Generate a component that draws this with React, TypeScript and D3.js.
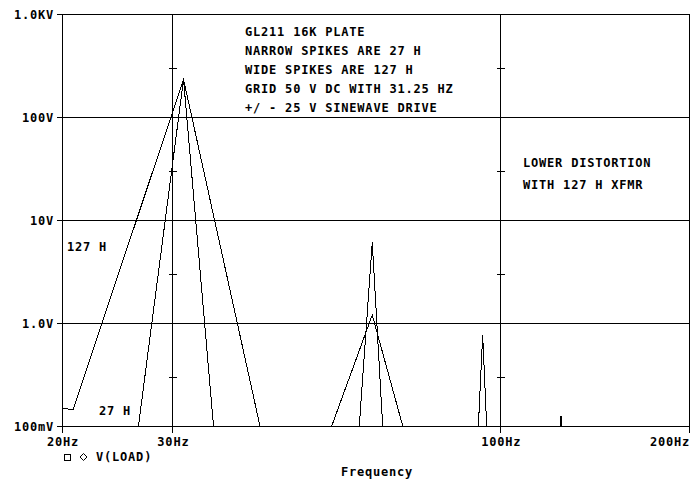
import React from "react";
import * as d3 from "d3";

// FFT bin frequencies (Hz)
const freqs = [10.42, 20.83, 31.25, 41.67, 52.08, 62.5, 72.92, 83.33, 93.75, 104.17, 114.58, 125.0, 135.42, 145.83, 156.25, 166.67, 177.08, 187.5, 197.92, 208.33];
// 127 H transformer (wide spikes), volts
const wide127 = [0.246, 0.144, 232, 0.0823, 0.0573, 1.196, 0.0391, 0.02, 0.03, 0.015, 0.01, 0.02, 0.01, 0.008, 0.01, 0.006, 0.005, 0.006, 0.004, 0.004];
// 27 H transformer (narrow spikes), volts
const narrow27 = [1e-6, 1.31e-6, 232, 3.7e-7, 9.2e-7, 6.07, 3.9e-7, 2e-7, 0.764, 3.4e-7, 3e-6, 0.125, 3e-6, 1e-7, 1e-7, 1e-7, 1e-7, 1e-7, 1e-7, 1e-7];

const yTicks = [1000, 100, 10, 1, 0.1];
const yTickLabels = ["1.0KV", "100V", "10V", "1.0V", "100mV"];
const xTicks = [20, 30, 100, 200];
const xTickLabels = ["20Hz", "30Hz", "100Hz", "200Hz"];
const minorY = [300, 30, 3, 0.3];
const minorXLines = [30, 100];

const notes = [
  "GL211 16K PLATE",
  "NARROW SPIKES ARE 27 H",
  "WIDE SPIKES ARE 127 H",
  "GRID 50 V DC WITH 31.25 HZ",
  "+/ - 25 V SINEWAVE DRIVE",
];
const notes2 = ["LOWER DISTORTION", "WITH 127 H XFMR"];

const W = 698, H = 489;
const L = 62, R = 689, T = 14, B = 426;

export default function App() {
  const x = d3.scaleLog().domain([20, 200]).range([L, R]);
  const y = d3.scaleLog().domain([0.1, 1000]).range([B, T]);
  const line = d3
    .line<number>()
    .x((_, i) => x(freqs[i]))
    .y((v) => y(v));

  const font = {
    fontFamily: "'DejaVu Sans Mono', monospace",
    fontWeight: "bold" as const,
    fontSize: 12,
    letterSpacing: 0.8,
  };
  const px = (v: number) => Math.round(v) + 0.5;

  return (
    <svg
      width={W}
      height={H}
      style={{ position: "absolute", left: 0, top: 0, background: "#fff" }}
    >
      <defs>
        <clipPath id="plot">
          <rect x={L} y={T} width={R - L + 1} height={B - T + 1} />
        </clipPath>
      </defs>
      <rect width={W} height={H} fill="#fff" />
      <g stroke="#000" strokeWidth={1} shapeRendering="crispEdges" fill="none">
        {yTicks.map((t) => (
          <line key={"h" + t} x1={L - 5} x2={R} y1={px(y(t))} y2={px(y(t))} />
        ))}
        {xTicks.map((t) => (
          <line key={"v" + t} x1={px(x(t))} x2={px(x(t))} y1={T} y2={B + 7} />
        ))}
        {minorXLines.map((f) =>
          minorY.map((m) => (
            <line
              key={"m" + f + "-" + m}
              x1={px(x(f)) - 4}
              x2={px(x(f)) + 4}
              y1={px(y(m))}
              y2={px(y(m))}
            />
          ))
        )}
      </g>
      <g clipPath="url(#plot)" fill="none" stroke="#000" strokeWidth={1} shapeRendering="crispEdges">
        <path d={line(wide127) || ""} />
        <path d={line(narrow27) || ""} />
      </g>
      <g style={font} fill="#000">
        {yTicks.map((t, i) => (
          <text key={"yl" + t} x={54} y={Math.round(y(t)) + 4.5} textAnchor="end">
            {yTickLabels[i]}
          </text>
        ))}
        {xTicks.map((t, i) => (
          <text
            key={"xl" + t}
            x={i === xTicks.length - 1 ? R + 1 : x(t) + 1}
            y={446}
            textAnchor={i === xTicks.length - 1 ? "end" : "middle"}
          >
            {xTickLabels[i]}
          </text>
        ))}
        {notes.map((n, i) => (
          <text key={"n" + i} x={245} y={36 + i * 19}>
            {n}
          </text>
        ))}
        {notes2.map((n, i) => (
          <text key={"n2" + i} x={523} y={167 + i * 22}>
            {n}
          </text>
        ))}
        <text x={67} y={251}>127 H</text>
        <text x={99} y={415}>27 H</text>
        <text x={377} y={476} textAnchor="middle" style={{ fontWeight: "bold" }}>
          Frequency
        </text>
        <text x={96} y={461}>V(LOAD)</text>
      </g>
      <g fill="none" stroke="#000" strokeWidth={1} shapeRendering="crispEdges">
        <rect x={64.5} y={454.5} width={6} height={6} />
        <path d="M83.5,453.5 L87,457 L83.5,460.5 L80,457 Z" shapeRendering="auto" />
      </g>
    </svg>
  );
}
